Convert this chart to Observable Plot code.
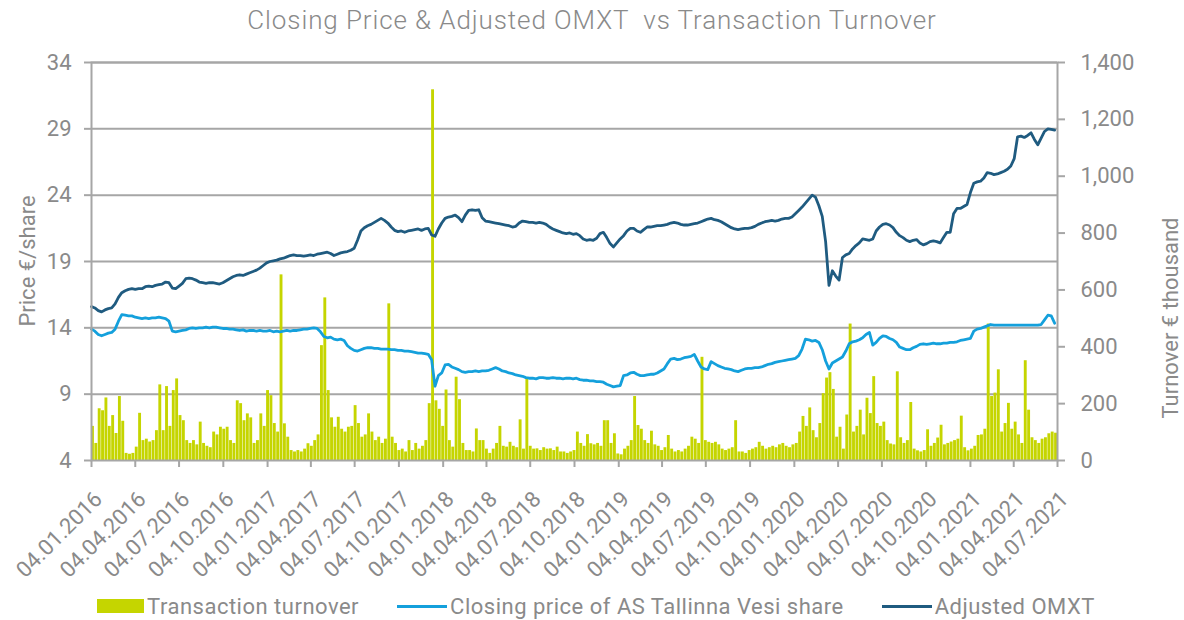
<!DOCTYPE html>
<html>
<head>
<meta charset="utf-8">
<script src="https://cdn.jsdelivr.net/npm/d3@7"></script>
<script src="https://cdn.jsdelivr.net/npm/@observablehq/plot@0.6"></script>
<style>
  html, body { margin: 0; padding: 0; background: #fff; }
  body { width: 1184px; height: 620px; overflow: hidden; font-family: Roboto, "DejaVu Sans", sans-serif; color: #8a8a8a; }
  #title { height: 40px; line-height: 40px; text-align: center; font-size: 26px; letter-spacing: 0.9px; white-space: pre; font-weight: 300; }
  #chart { height: 552px; }
  #legend { height: 28px; display: flex; align-items: center; justify-content: center; font-size: 22px; letter-spacing: 0.5px; padding-left: 8px; gap: 38px; }
  .item { display: flex; align-items: center; }
  .sw { display: inline-block; width: 48px; margin-right: 3px; }
</style>
</head>
<body>
<div id="title"></div>
<div id="chart"></div>
<div id="legend"></div>
<script>
const titleText = "Closing Price & Adjusted OMXT  vs Transaction Turnover";
const leftAxisTitle = "Price €/share";
const rightAxisTitle = "Turnover € thousand";
const seriesNames = ["Transaction turnover", "Closing price of AS Tallinna Vesi share", "Adjusted OMXT"];
const seriesColors = ["#c5d500", "#14a0dc", "#1f5b80"];

// weekly observations starting on this date
const firstWeek = "04.01.2016";
const xTickLabels = [
  "04.01.2016","04.04.2016","04.07.2016","04.10.2016",
  "04.01.2017","04.04.2017","04.07.2017","04.10.2017",
  "04.01.2018","04.04.2018","04.07.2018","04.10.2018",
  "04.01.2019","04.04.2019","04.07.2019","04.10.2019",
  "04.01.2020","04.04.2020","04.07.2020","04.10.2020",
  "04.01.2021","04.04.2021","04.07.2021"
];
const priceTicks = [4, 9, 14, 19, 24, 29, 34];
const turnoverTicks = [0, 200, 400, 600, 800, 1000, 1200, 1400];

// Adjusted OMXT (€ scale, left axis)
const omxt = [
15.6,15.5,15.3,15.2,15.35,15.45,15.5,15.8,16.3,16.65,
16.8,16.9,16.95,16.9,16.95,16.95,17.1,17.15,17.1,17.2,
17.25,17.3,17.45,17.4,17.0,16.95,17.15,17.35,17.7,17.75,
17.7,17.6,17.45,17.4,17.35,17.4,17.4,17.35,17.3,17.4,
17.55,17.7,17.85,17.95,18.0,17.95,18.05,18.15,18.25,18.35,
18.5,18.7,18.9,19.0,19.05,19.1,19.2,19.25,19.35,19.45,
19.5,19.45,19.45,19.4,19.45,19.5,19.45,19.55,19.6,19.65,
19.7,19.6,19.45,19.55,19.65,19.7,19.75,19.85,20.0,20.6,
21.3,21.55,21.7,21.8,21.95,22.1,22.25,22.1,21.9,21.6,
21.35,21.25,21.3,21.2,21.3,21.35,21.4,21.45,21.35,21.45,
21.5,21.0,20.9,21.45,21.9,22.25,22.35,22.4,22.5,22.3,
22.0,22.5,22.85,22.9,22.85,22.9,22.3,22.05,22.0,21.95,
21.9,21.85,21.8,21.75,21.7,21.6,21.65,21.9,22.05,22.0,
21.95,21.95,21.9,21.95,21.9,21.8,21.6,21.45,21.35,21.25,
21.15,21.1,21.15,21.05,21.1,20.95,20.7,20.6,20.65,20.6,
20.75,21.1,21.2,20.8,20.35,20.1,20.4,20.7,20.95,21.3,
21.5,21.5,21.3,21.2,21.4,21.6,21.6,21.65,21.7,21.7,
21.75,21.8,21.9,21.95,21.9,21.8,21.75,21.75,21.8,21.85,
21.9,22.0,22.1,22.2,22.25,22.15,22.1,22.0,21.85,21.7,
21.55,21.45,21.4,21.45,21.5,21.5,21.55,21.65,21.8,21.9,
22.0,22.05,22.1,22.05,22.1,22.2,22.25,22.25,22.35,22.6,
22.85,23.1,23.4,23.7,24.0,23.85,23.2,22.4,20.5,17.2,
18.3,17.9,17.6,19.3,19.5,19.6,19.95,20.2,20.4,20.7,
20.65,20.6,20.7,21.3,21.6,21.8,21.85,21.75,21.55,21.2,
20.95,20.8,20.6,20.5,20.6,20.65,20.4,20.25,20.35,20.5,
20.55,20.5,20.4,20.8,21.2,21.2,22.6,23.0,23.0,23.15,
23.3,24.2,24.9,25.0,25.05,25.3,25.7,25.65,25.55,25.6,
25.7,25.8,25.95,26.2,26.75,28.4,28.45,28.35,28.5,28.7,
28.2,27.8,28.3,28.8,29.0,28.95,28.9
];

// Closing price of AS Tallinna Vesi share (€)
const closing = [
13.9,13.75,13.5,13.4,13.5,13.6,13.65,13.9,14.5,15.0,
14.95,14.9,14.9,14.8,14.75,14.7,14.75,14.7,14.75,14.75,
14.8,14.75,14.7,14.5,13.75,13.7,13.75,13.8,13.85,13.95,
14.0,13.95,14.0,14.0,14.05,14.0,14.05,14.05,14.0,13.95,
13.95,13.9,13.9,13.85,13.8,13.85,13.75,13.8,13.8,13.75,
13.8,13.75,13.75,13.8,13.7,13.75,13.7,13.75,13.8,13.75,
13.8,13.8,13.85,13.9,13.9,13.95,14.0,13.95,13.7,13.35,
13.25,13.3,13.15,13.1,13.15,13.05,12.65,12.45,12.3,12.25,
12.35,12.45,12.5,12.5,12.45,12.45,12.4,12.4,12.4,12.35,
12.35,12.3,12.3,12.25,12.25,12.2,12.15,12.1,12.1,12.05,
12.0,11.6,9.6,10.4,10.6,11.2,11.25,11.05,10.95,10.85,
10.7,10.65,10.7,10.7,10.75,10.7,10.75,10.75,10.8,10.9,
11.0,10.9,10.75,10.7,10.6,10.55,10.45,10.4,10.35,10.25,
10.2,10.2,10.15,10.25,10.25,10.2,10.2,10.25,10.2,10.2,
10.15,10.2,10.2,10.15,10.2,10.1,10.05,10.05,10.0,10.0,
9.95,9.95,9.9,9.75,9.65,9.55,9.6,9.65,10.4,10.45,
10.6,10.65,10.5,10.4,10.4,10.45,10.5,10.5,10.6,10.75,
10.9,11.3,11.65,11.7,11.6,11.65,11.75,11.8,11.85,12.0,
11.5,11.05,10.9,10.85,11.45,11.3,11.15,11.05,10.95,10.9,
10.85,10.75,10.7,10.8,10.9,10.95,10.95,11.0,11.0,11.05,
11.15,11.25,11.3,11.4,11.45,11.5,11.55,11.6,11.65,11.7,
11.9,12.4,13.15,13.1,13.0,13.05,12.9,12.35,11.5,10.9,
11.35,11.5,11.65,11.8,12.25,12.8,12.95,13.0,13.1,13.25,
13.5,13.65,12.7,12.9,13.2,13.4,13.35,13.2,13.1,12.9,
12.55,12.45,12.35,12.35,12.5,12.6,12.75,12.8,12.75,12.8,
12.85,12.8,12.8,12.85,12.85,12.9,12.9,12.95,13.05,13.1,
13.15,13.2,13.75,13.9,13.95,14.05,14.15,14.25,14.2,14.2,
14.2,14.2,14.2,14.2,14.2,14.2,14.2,14.2,14.2,14.2,
14.2,14.2,14.25,14.6,14.95,14.9,14.35
];

// Transaction turnover (€ thousand, right axis)
const turnover = [
120,60,182,175,220,120,158,95,225,138,
25,22,25,47,166,70,75,65,70,105,
266,105,260,120,246,287,158,140,70,60,
70,55,135,60,50,45,100,90,117,110,
117,70,60,210,200,140,164,150,60,70,
164,120,246,228,130,100,653,129,82,35,
30,35,30,40,59,50,70,90,404,572,
246,150,117,152,110,100,117,120,193,130,
82,90,164,100,70,82,60,75,551,82,
60,35,40,30,70,35,60,40,50,70,
200,1304,210,180,120,248,70,47,293,214,
60,35,35,30,111,70,70,40,25,40,
60,120,50,47,64,50,45,143,40,287,
50,40,41,35,45,40,41,35,47,30,
30,25,30,35,100,60,50,91,59,55,
60,50,140,140,60,94,23,20,40,50,
70,225,123,110,70,60,103,55,50,35,
45,88,40,30,35,30,40,50,82,75,
60,363,70,64,60,64,55,40,35,40,
45,140,30,30,25,35,40,45,64,50,
40,45,50,45,55,60,50,45,55,60,
100,155,120,185,105,80,130,235,290,309,
250,82,117,40,160,480,100,120,177,90,
219,165,295,130,120,135,70,58,55,312,
80,60,70,204,40,34,30,35,108,50,
60,79,124,55,60,65,70,75,156,45,
34,40,50,88,90,110,480,225,237,319,
100,130,201,110,135,90,60,351,177,80,
70,60,75,80,94,100,96
];

// ---------- build ----------
const DAY = 864e5;
const parse = d3.utcParse("%d.%m.%Y");
const tickDates = xTickLabels.map(parse);
const t0 = +parse(firstWeek);
const pMin = priceTicks[0], pMax = priceTicks[priceTicks.length - 1];
const tMax = turnoverTicks[turnoverTicks.length - 1];
const toPrice = t => pMin + t * (pMax - pMin) / tMax;
const toTurn = p => (p - pMin) * tMax / (pMax - pMin);

const rows = omxt.map((v, i) => ({
  date: new Date(t0 + i * 7 * DAY),
  end: new Date(t0 + (i * 7 + 6) * DAY),
  omxt: v,
  close: closing[i],
  turn: turnover[i]
}));

const grid = "#a6a6a6";
const textCol = "#8a8a8a";

const chart = Plot.plot({
  width: 1184,
  height: 552,
  marginTop: 22,
  marginLeft: 91,
  marginRight: 127,
  marginBottom: 132,
  style: { fontFamily: "Roboto, 'DejaVu Sans', sans-serif", fontSize: "22px", color: textCol, background: "transparent", overflow: "visible" },
  x: { type: "utc", domain: [tickDates[0], tickDates[tickDates.length - 1]] },
  y: { domain: [pMin, pMax] },
  marks: [
    Plot.ruleY(priceTicks.slice(1), { stroke: grid, strokeWidth: 2 }),
    Plot.rect(rows, { x1: "date", x2: "end", y1: () => toPrice(0), y2: d => toPrice(d.turn), fill: seriesColors[0] }),
    Plot.line(rows, { x: "date", y: "close", stroke: seriesColors[1], strokeWidth: 2.8 }),
    Plot.line(rows, { x: "date", y: "omxt", stroke: seriesColors[2], strokeWidth: 2.8 }),
    Plot.frame({ stroke: grid, strokeWidth: 2 }),
    Plot.axisY({ anchor: "left", ticks: priceTicks, tickSize: 7, tickPadding: 13, label: null, stroke: grid, strokeWidth: 2, fill: textCol, fontSize: 22 }),
    Plot.axisY({ anchor: "right", ticks: turnoverTicks.map(toPrice), tickFormat: v => d3.format(",")(Math.round(toTurn(v))), tickSize: 7, tickPadding: 16, label: null, stroke: grid, strokeWidth: 2, fill: textCol, fontSize: 22 }),
    // x tick marks (no text)
    Plot.axisX({ ticks: tickDates, tickFormat: () => "", tickSize: 7, label: null, stroke: grid, strokeWidth: 2 }),
    // x tick labels
    Plot.axisX({ ticks: tickDates, tickFormat: d3.utcFormat("%d.%m.%Y"), tickRotate: -45, tickSize: 0, tickPadding: 33, dx: 7, dy: 2, label: null, fill: textCol, fontSize: 22 })
  ]
});
document.getElementById("chart").appendChild(chart);

// axis titles
const svg = d3.select(chart);
svg.append("text")
  .attr("transform", "translate(27,221) rotate(-90)")
  .attr("text-anchor", "middle").attr("dominant-baseline", "central")
  .attr("fill", textCol).style("font-size", "22px")
  .text(leftAxisTitle);
svg.append("text")
  .attr("transform", "translate(1170,278) rotate(-90)")
  .attr("text-anchor", "middle").attr("dominant-baseline", "central")
  .attr("fill", textCol).style("font-size", "22px")
  .text(rightAxisTitle);

// title
document.getElementById("title").textContent = titleText;

// legend
const legend = d3.select("#legend");
seriesNames.forEach((name, i) => {
  const item = legend.append("div").attr("class", "item");
  const sw = item.append("span").attr("class", "sw").style("background", seriesColors[i]);
  if (i === 0) sw.style("height", "14px").style("width", "47px");
  else sw.style("height", "3px").style("width", "50px");
  item.append("span").text(name);
});
</script>
</body>
</html>
